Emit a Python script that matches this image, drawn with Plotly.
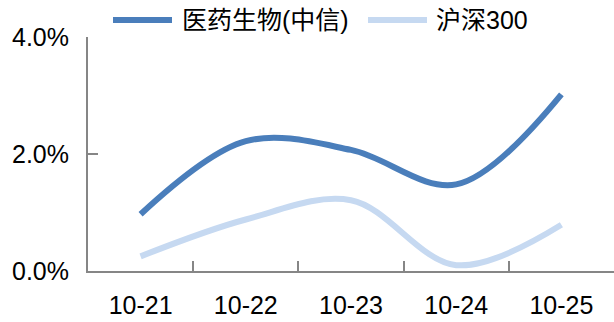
import plotly.graph_objects as go

# Daily returns (%) by trading date
dates = ["10-21", "10-22", "10-23", "10-24", "10-25"]
pharma = [0.97, 2.22, 2.07, 1.48, 3.02]      # 医药生物(中信)
hs300 = [0.25, 0.88, 1.21, 0.10, 0.79]       # 沪深300

series_names = ["医药生物(中信)", "沪深300"]
series_colors = ["#4A7EBB", "#C6D9F1"]

y_ticks = [0, 2, 4]
y_tick_text = ["0.0%", "2.0%", "4.0%"]

axis_grey = "#868686"
label_font = dict(family="Liberation Sans, Arial, sans-serif", size=25, color="#000000")
legend_font = dict(family="Liberation Sans, Noto Sans CJK SC, sans-serif", size=25, color="#000000")

# Plot-area geometry in pixels, used to place the legend keys above it
W, H = 614, 322
L, R, T, B = 88, 0, 37, 51
plot_w, plot_h = W - L - R, H - T - B


def px_x(px):
    return (px - L) / plot_w


def px_y(py):
    return (H - B - py) / plot_h


fig = go.Figure()
for name, vals, color in zip(series_names, [pharma, hs300], series_colors):
    fig.add_trace(go.Scatter(
        x=dates, y=vals, name=name, mode="lines",
        line=dict(color=color, width=6, shape="spline", smoothing=1.0),
    ))

# Horizontal legend across the top: long line key followed by its label
legend_y = 20
legend_items = [(113, 172, 180), (368, 427, 434)]
for (x0, x1, tx), name, color in zip(legend_items, series_names, series_colors):
    fig.add_shape(
        type="line", xref="paper", yref="paper",
        x0=px_x(x0), x1=px_x(x1), y0=px_y(legend_y), y1=px_y(legend_y),
        line=dict(color=color, width=6),
    )
    fig.add_annotation(
        text=name, xref="paper", yref="paper", x=px_x(tx), y=px_y(legend_y),
        xanchor="left", yanchor="middle", showarrow=False, font=legend_font,
    )

fig.update_layout(
    width=W, height=H,
    margin=dict(l=L, r=R, t=T, b=B, autoexpand=False),
    paper_bgcolor="white", plot_bgcolor="white",
    showlegend=False,
    xaxis=dict(
        type="category", range=[-0.5, 4.5], tickson="boundaries",
        showline=True, linecolor=axis_grey, linewidth=2,
        ticks="inside", ticklen=10, tickcolor=axis_grey, tickwidth=2,
        showgrid=False, zeroline=False, tickfont=label_font,
        ticklabelstandoff=11,
    ),
    yaxis=dict(
        range=[0, 4], tickvals=y_ticks, ticktext=y_tick_text,
        showline=True, linecolor=axis_grey, linewidth=2,
        ticks="inside", ticklen=10, tickcolor=axis_grey, tickwidth=2,
        showgrid=False, zeroline=False, tickfont=label_font,
        ticklabelstandoff=12,
    ),
)

fig.write_html("out.html")
